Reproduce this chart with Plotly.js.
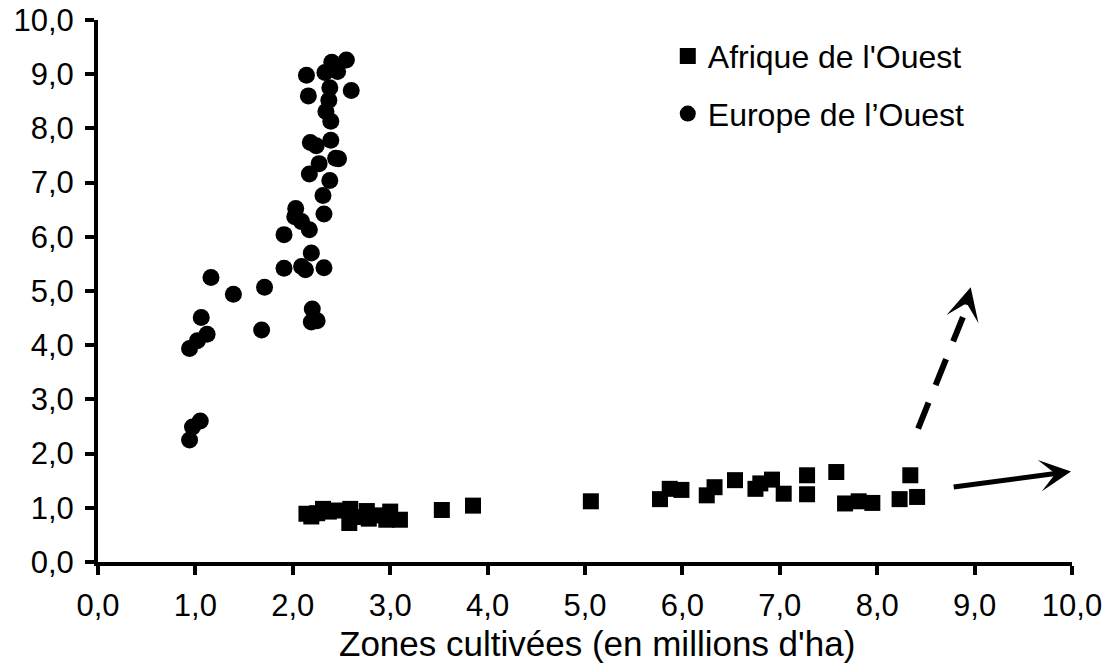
<!DOCTYPE html>
<html>
<head>
<meta charset="utf-8">
<script src="https://cdn.plot.ly/plotly-3.0.1.min.js"></script>
<style>html,body{margin:0;padding:0;background:#fff;}#chart{width:1109px;height:664px;}</style>
</head>
<body>
<div id="chart"></div>
<script>
// Series names
const seriesNames = ["Afrique de l'Ouest", "Europe de l\u2019Ouest"];

// Afrique de l'Ouest (zones cultivées, rendement)
const afriqueX = [2.14, 2.19, 2.25, 2.31, 2.37, 2.46, 2.59, 2.58, 2.66, 2.76, 2.78, 2.90, 2.96, 3.00, 3.10,
                  3.53, 3.85, 5.06, 5.77, 5.87, 5.99, 6.25, 6.33, 6.54, 6.75, 6.80, 6.92, 7.04, 7.28, 7.28,
                  7.58, 7.67, 7.81, 7.95, 8.23, 8.34, 8.41];
const afriqueY = [0.89, 0.84, 0.90, 0.98, 0.93, 0.95, 0.98, 0.72, 0.83, 0.94, 0.80, 0.86, 0.78, 0.93, 0.78,
                  0.96, 1.04, 1.12, 1.16, 1.35, 1.33, 1.23, 1.38, 1.51, 1.35, 1.45, 1.52, 1.26, 1.60, 1.25,
                  1.66, 1.08, 1.12, 1.09, 1.16, 1.60, 1.20];

// Europe de l'Ouest
const europeX = [0.94, 0.97, 1.05, 0.94, 1.02, 1.12, 1.06, 1.16, 1.39, 1.68, 1.71, 1.91, 1.91, 2.03, 2.02,
                 2.09, 2.17, 2.19, 2.09, 2.13, 2.32, 2.20, 2.19, 2.25, 2.32, 2.31, 2.38, 2.17, 2.27, 2.44,
                 2.47, 2.18, 2.24, 2.39, 2.39, 2.34, 2.37, 2.38, 2.60, 2.16, 2.14, 2.33, 2.40, 2.46, 2.55, 2.42];
const europeY = [2.25, 2.49, 2.60, 3.94, 4.08, 4.20, 4.51, 5.25, 4.94, 4.28, 5.07, 6.04, 5.42, 6.52, 6.37,
                 6.28, 6.13, 5.70, 5.45, 5.39, 5.43, 4.67, 4.43, 4.45, 6.42, 6.76, 7.04, 7.16, 7.35, 7.45,
                 7.44, 7.74, 7.68, 7.78, 8.13, 8.31, 8.52, 8.75, 8.70, 8.60, 8.98, 9.03, 9.22, 9.05, 9.26, 9.10];

// Trend arrows (data coordinates): [startX, startY, tipX, tipY]
const solidArrow = [8.77, 1.38, 9.99, 1.67];
const dashedArrow = [8.42, 2.46, 8.96, 5.07];
const dashedShaftEnd = [8.88, 4.52];
const dashedHeadBase = [8.91, 4.72];

const axisTitleX = "Zones cultivées (en millions d'ha)";

const FONT = "Arial, 'Liberation Sans', sans-serif";

const traces = [
  {
    type: 'scatter', mode: 'markers', name: seriesNames[0],
    x: afriqueX, y: afriqueY, legendgroup: 'a',
    marker: {symbol: 'square', size: 16, color: '#000'},
    cliponaxis: false
  },
  {
    type: 'scatter', mode: 'markers', name: seriesNames[1],
    x: europeX, y: europeY, legendgroup: 'e',
    marker: {symbol: 'circle', size: 17, color: '#000'},
    cliponaxis: false
  }
];

const axisCommon = {
  range: [0, 10], dtick: 1, tick0: 0, tickformat: '.1f',
  showgrid: false, zeroline: false,
  showline: true, linecolor: '#000', linewidth: 4,
  ticks: 'outside', ticklen: 9, tickwidth: 4, tickcolor: '#000',
  tickfont: {family: FONT, size: 31, color: '#000'},
  fixedrange: true
};

const layout = {
  width: 1109, height: 664,
  margin: {l: 98, r: 37, t: 20, b: 102, pad: 0},
  paper_bgcolor: '#fff', plot_bgcolor: '#fff',
  separators: ', ',
  font: {family: FONT, color: '#000'},
  xaxis: Object.assign({}, axisCommon, {ticklabelstandoff: 4}),
  yaxis: Object.assign({}, axisCommon, {ticklabelstandoff: 5}),
  showlegend: true,
  legend: {
    x: 0.585, y: 0.984, xanchor: 'left', yanchor: 'top',
    font: {family: FONT, size: 32, color: '#000'},
    bgcolor: 'rgba(0,0,0,0)', borderwidth: 0,
    traceorder: 'grouped', tracegroupgap: 13
  },
  shapes: [
    {type: 'line', xref: 'x', yref: 'y',
     x0: dashedArrow[0], y0: dashedArrow[1], x1: dashedShaftEnd[0], y1: dashedShaftEnd[1],
     line: {color: '#000', width: 6, dash: '28px,19px'}}
  ],
  annotations: [
    {xref: 'x', yref: 'y', axref: 'x', ayref: 'y',
     x: solidArrow[2], y: solidArrow[3], ax: solidArrow[0], ay: solidArrow[1],
     text: '', showarrow: true, arrowhead: 3, arrowsize: 1.05, arrowwidth: 5, arrowcolor: '#000'},
    {xref: 'x', yref: 'y', axref: 'x', ayref: 'y',
     x: dashedArrow[2], y: dashedArrow[3], ax: dashedHeadBase[0], ay: dashedHeadBase[1],
     text: '', showarrow: true, arrowhead: 3, arrowsize: 1.1, arrowwidth: 5, arrowcolor: '#000'},
    {xref: 'paper', yref: 'paper', x: 0.512, y: -0.151, xanchor: 'center', yanchor: 'middle',
     text: axisTitleX, showarrow: false, font: {family: FONT, size: 35, color: '#000'}}
  ]
};

Plotly.newPlot('chart', traces, layout, {displayModeBar: false, staticPlot: true});
</script>
</body>
</html>
